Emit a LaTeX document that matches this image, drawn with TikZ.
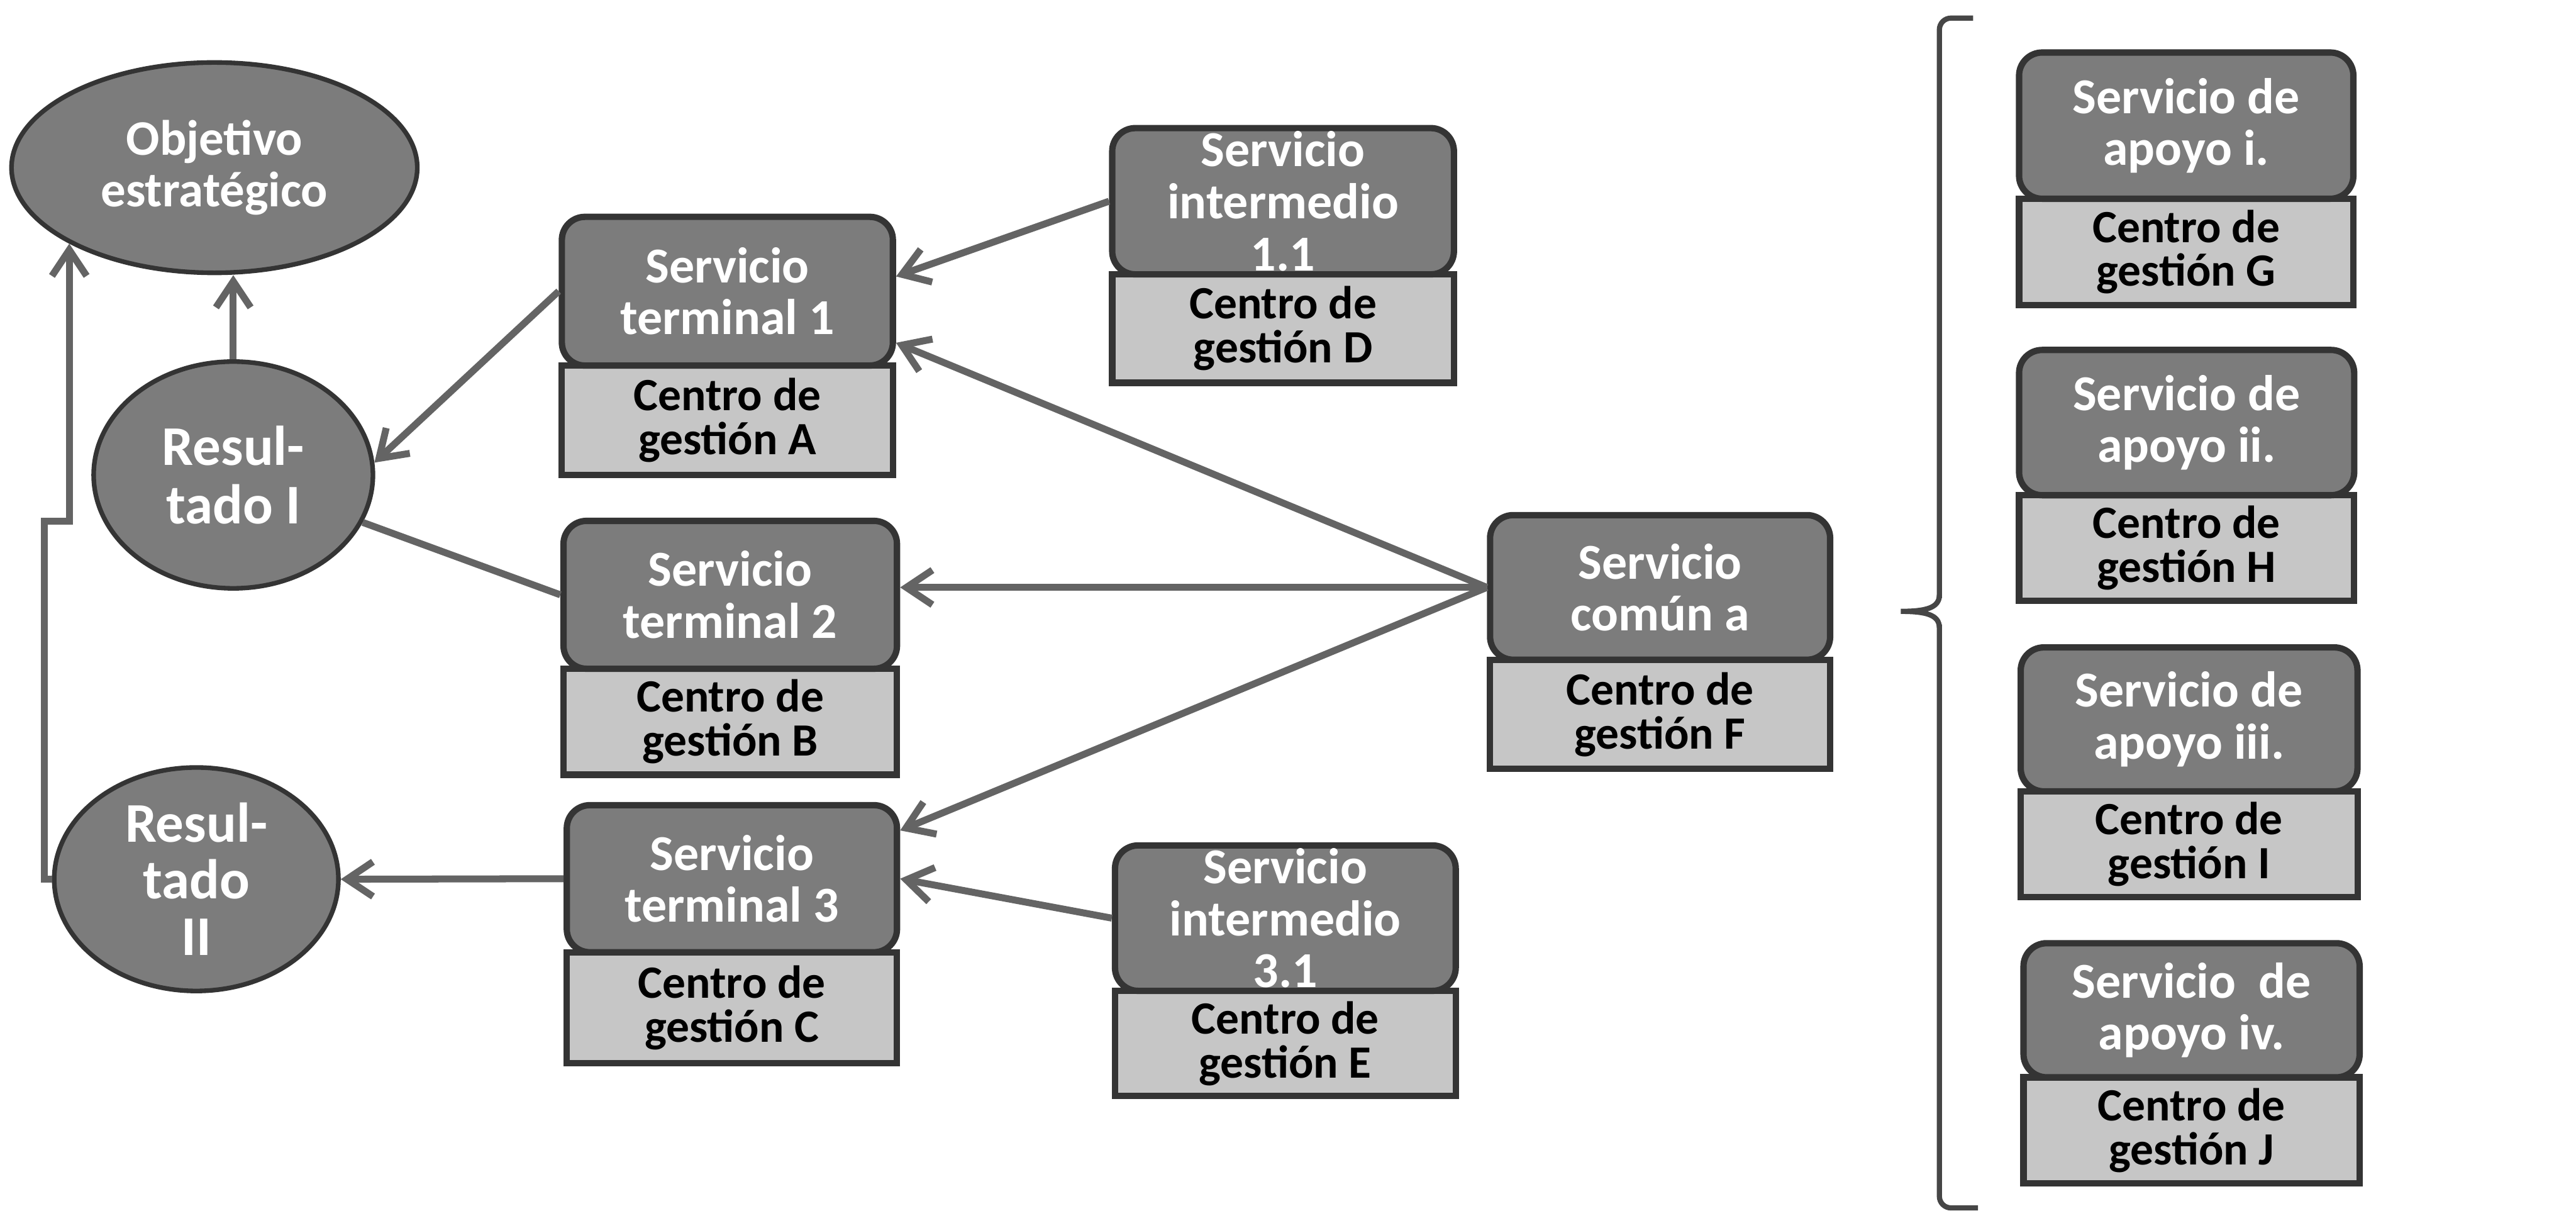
\documentclass[tikz,border=0pt]{standalone}
\usepackage{fontspec}
\setmainfont{Carlito}
\usetikzlibrary{arrows.meta,shapes.geometric,calc}

\definecolor{svcfill}{RGB}{124,124,124}
\definecolor{ctrfill}{RGB}{198,198,198}
\definecolor{edgecol}{RGB}{52,52,52}
\definecolor{wirecol}{RGB}{100,100,100}
\definecolor{bracecol}{RGB}{70,70,70}

\tikzset{
  svc/.style={draw=edgecol, line width=1.1pt, fill=svcfill, rounded corners=4pt,
    text=white, font=\bfseries\fontsize{8.7}{9}\selectfont, align=center,
    inner sep=0pt, anchor=north},
  ctr/.style={draw=edgecol, line width=1.1pt, fill=ctrfill, text=black,
    font=\bfseries\fontsize{8}{7.6}\selectfont, align=center,
    inner sep=0pt, anchor=north},
  goal/.style={ellipse, draw=edgecol, line width=0.8pt, fill=svcfill,
    text=white, align=center, inner sep=0pt},
  link/.style={draw=wirecol, line width=1.2pt},
  arrowlink/.style={link, -{Straight Barb[length=4.5pt,width=6pt]}},
}

% service box (rounded) sitting on its management centre box
% #1 name, #2 centre x, #3 width, #4 top, #5 split, #6 bottom, #7 upper text, #8 lower text
\newcommand\pairbox[8]{%
  \pgfmathsetmacro\pbhu{#5-#4}\pgfmathsetmacro\pbhl{#6-#5}%
  \node[ctr, minimum width=#3*0.01cm, minimum height=\pbhl*0.01cm] (#1c) at (#2,#5) {#8};
  \node[svc, minimum width=#3*0.01cm, minimum height=\pbhu*0.01cm] (#1) at (#2,#4) {#7};
}

\begin{document}
\begin{tikzpicture}[x=0.01cm, y=-0.01cm]
\useasboundingbox[fill=white] (0,0) rectangle (1568,747);

% results and objective
\node[goal, minimum width=247*0.01cm, minimum height=128*0.01cm,
  font=\bfseries\fontsize{8.6}{8.9}\selectfont] (O) at (130.5,102) {Objetivo\\estratégico};
\node[goal, minimum width=170*0.01cm, minimum height=138*0.01cm,
  font=\bfseries\fontsize{9.7}{10.2}\selectfont] (R1) at (142,289) {Resul-\\tado I};
\node[goal, minimum width=173*0.01cm, minimum height=136*0.01cm,
  font=\bfseries\fontsize{9.7}{9.8}\selectfont] (R2) at (119.5,535) {Resul-\\tado\\II};

% terminal services
\pairbox{T1}{442.75}{201.5}{130}{220.5}{287}{Servicio\\terminal 1}{Centro de\\gestión A}
\pairbox{T2}{444.5}{203}{315}{405}{469.5}{Servicio\\terminal 2}{Centro de\\gestión B}
\pairbox{T3}{445.5}{201}{488}{577.5}{645}{Servicio\\terminal 3}{Centro de\\gestión C}

% intermediate and common services
\pairbox{I1}{781}{208}{76}{165}{231}{Servicio\\intermedio\\1.1}{Centro de\\gestión D}
\pairbox{I3}{782.4}{207.4}{512.5}{601}{665}{Servicio\\intermedio\\3.1}{Centro de\\gestión E}
\pairbox{C}{1010.5}{207}{311.5}{399.5}{466}{Servicio\\común a}{Centro de\\gestión F}

% support services
\pairbox{A1}{1330.75}{203.5}{30}{119}{183.7}{Servicio de\\apoyo i.}{Centro de\\gestión G}
\pairbox{A2}{1331}{204}{211}{299.4}{363.8}{Servicio de\\apoyo ii.}{Centro de\\gestión H}
\pairbox{A3}{1332.5}{205}{392}{479.6}{544}{Servicio de\\apoyo iii.}{Centro de\\gestión I}
\pairbox{A4}{1334}{204.6}{572}{653.6}{718}{Servicio~ de\\apoyo iv.}{Centro de\\gestión J}

% bracket grouping the support services
\draw[bracecol, line width=0.9pt, rounded corners=2pt]
  (1201,11) -- (1180.5,11) -- (1180.5,364);
\draw[bracecol, line width=0.9pt]
  (1180.5,362) .. controls (1180.5,370) and (1172,372) .. (1157,372)
  .. controls (1172,372) and (1180.5,374) .. (1180.5,382);
\draw[bracecol, line width=0.9pt, rounded corners=2pt]
  (1180.5,380) -- (1180.5,735) -- (1204,735);

% connectors
\coordinate (k1) at (27,317);
\draw[arrowlink] (R1.north) -- (R1.north |- O.south);
\draw[arrowlink] (R2.west) -| (k1) -| (O.south west);
\draw[arrowlink] (T1.west) -- (R1.5);
\draw[link] (T2.west) -- (R1);
\draw[arrowlink] (T3.west) -- (R2.east);
\draw[arrowlink] (I1.west) -- (T1.5);
\draw[arrowlink] (C.west) -- (T1.343);
\draw[arrowlink] (C.west) -- (C.west -| T2.east);
\draw[arrowlink] (C.west) -- (T3.16);
\draw[arrowlink] (I3.west) -- (T3.east);
\end{tikzpicture}
\end{document}
